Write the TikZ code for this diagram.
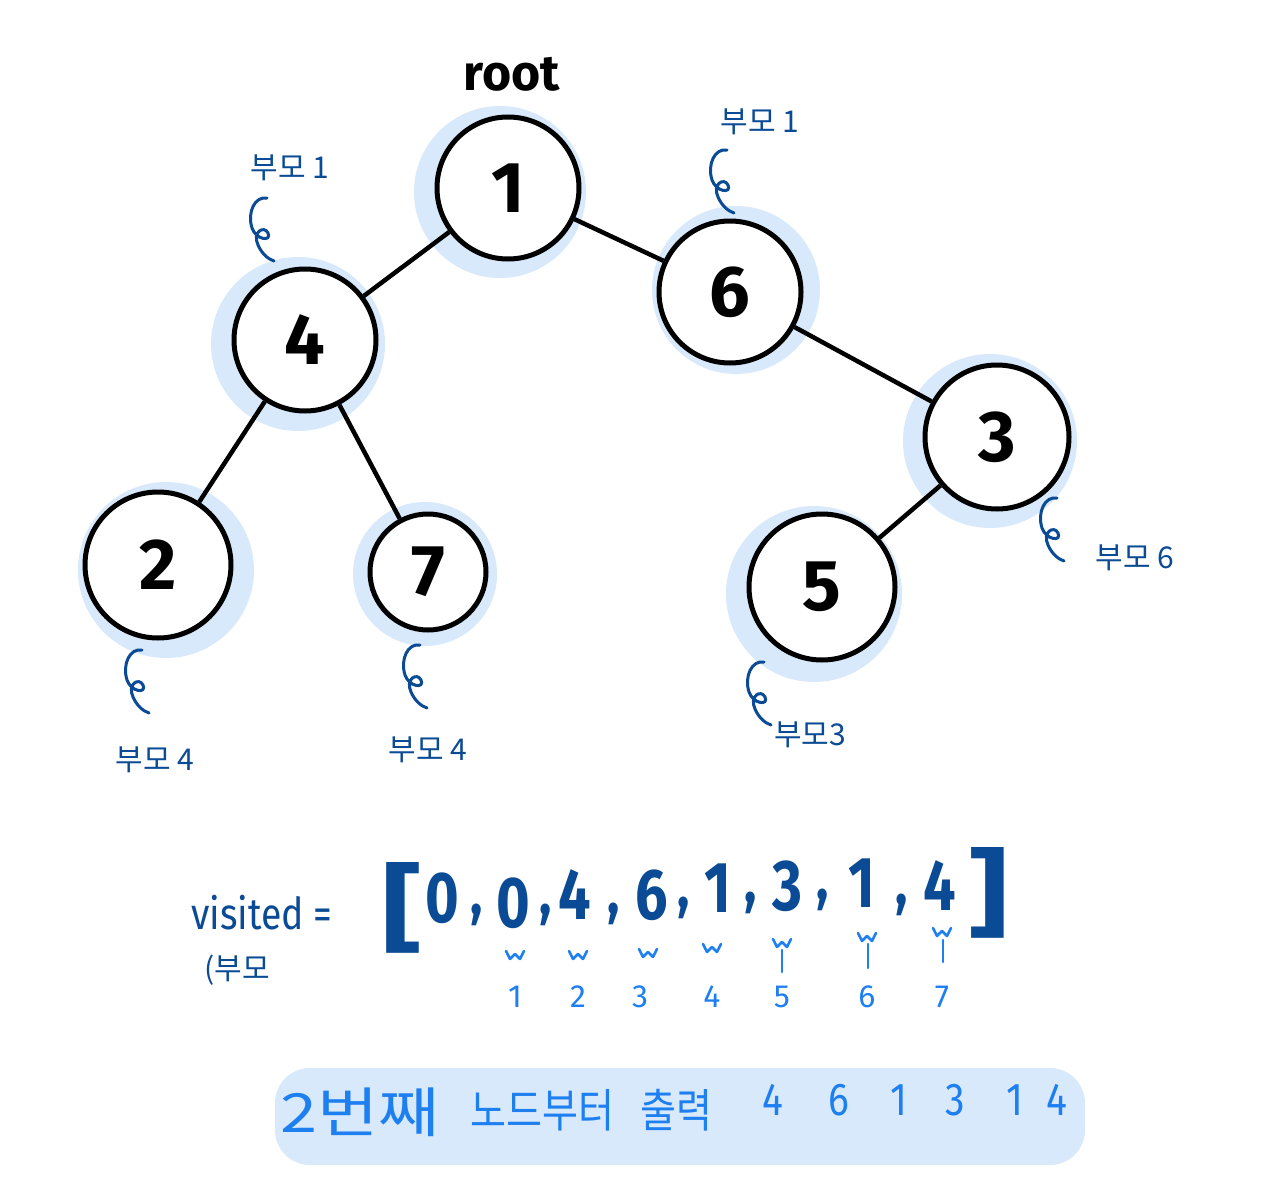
\documentclass[tikz,border=0pt]{standalone}
\usepackage{fontspec}
\setmainfont{Fira Sans}
\newfontfamily\kr{Noto Sans CJK KR}
\usetikzlibrary{positioning,calc}
\definecolor{ndark}{HTML}{0B4A94}
\definecolor{nbright}{HTML}{1E7FF0}
\definecolor{nhalo}{HTML}{D8E9FB}
\tikzset{
 curlmark/.pic={\draw[curlline] (12,0) .. controls (0,-2) and (-8,14) .. (-3,30) .. controls (1,42) and (17,44) .. (13,35) .. controls (9,27) and (-3,34) .. (3,47) .. controls (7,56) and (13,61) .. (19,63);}
}
\begin{document}
\begin{tikzpicture}[x=1pt,y=-1pt,
 tnode/.style={circle,draw=black,line width=5pt,fill=white,inner sep=0pt,font=\fontsize{72}{72}\selectfont\bfseries},
 edge/.style={line width=4.5pt},
 note/.style={text=ndark,inner sep=0pt,font=\kr\fontsize{30}{30}\selectfont},
 curlline/.style={draw=ndark,line width=3pt,line cap=round},
 arr/.style={text=ndark,inner sep=0pt,xscale=0.8,font=\fontsize{72}{72}\selectfont\bfseries},
 idx/.style={text=nbright,inner sep=0pt,font=\fontsize{32}{32}\selectfont},
 wave/.style={draw=nbright,line width=2.5pt,line cap=round,line join=round},
 outtext/.style={text=nbright,inner sep=0pt,anchor=west,xscale=0.85,font=\kr\fontsize{46}{46}\selectfont}]
\useasboundingbox (0,0) rectangle (1270,1199);
\fill[white] (0,0) rectangle (1270,1199);
\foreach \x/\y/\r in {500/192/86, 298/344/87, 736/290/84, 990/441/87, 166/570/88, 425/574/72, 814/594/88}
  \fill[nhalo] (\x,\y) circle (\r);
\node[tnode,minimum size=142pt] (n1) at (508,188) {1};
\node[tnode,minimum size=142pt] (n4) at (305,340) {4};
\node[tnode,minimum size=142pt] (n6) at (730,292) {6};
\node[tnode,minimum size=144pt] (n3) at (997,437) {3};
\node[tnode,minimum size=146pt] (n2) at (158,565) {2};
\node[tnode,minimum size=116pt] (n7) at (428,572) {7};
\node[tnode,minimum size=146pt] (n5) at (822,587) {5};
\draw[edge] (n1) -- (n4);
\draw[edge] (n1) -- (n6);
\draw[edge] (n4) -- (n2);
\draw[edge] (n4) -- (n7);
\draw[edge] (n6) -- (n3);
\draw[edge] (n3) -- (n5);
\node[font=\fontsize{50}{50}\selectfont\bfseries] (root) at (512,74) {root};
\node[note] (p4) at (290,168) {부모 1};
\node[note] (p6) at (760,122) {부모 1};
\node[note] (p3) at (1135,558) {부모 6};
\node[note] (p2) at (155,760) {부모 4};
\node[note] (p7) at (428,750) {부모 4};
\node[note] (p5) at (810,735) {부모3};
\pic at (255,198) {curlmark};
\pic at (715,150) {curlmark};
\pic at (1045,498) {curlmark};
\pic at (130,650) {curlmark};
\pic at (408,645) {curlmark};
\pic at (752,662) {curlmark};
\node[text=ndark,inner sep=0pt,xscale=0.85,font=\fontsize{44}{44}\selectfont] (vis) at (262,913) {visited =};
\node[text=ndark,inner sep=0pt,font=\kr\fontsize{30}{30}\selectfont] (par) at (237,970) {(부모};
\node[arr,xscale=1.6,font=\fontsize{96}{96}\selectfont\bfseries] (lb) at (402,908) {[};
\node[arr,xscale=1.6,font=\fontsize{96}{96}\selectfont\bfseries] (rb) at (988,893) {]};
\foreach \v/\x/\y in {0/442/898, 0/513/903, 4/575/895, 6/652/895, 1/718/888, 3/787/886, 1/862/883, 4/940/886}
  \node[arr] at (\x,\y) {\v};
\foreach \x/\y in {477/915, 546/915, 614/914, 684/908, 751/903, 823/900, 902/905}
  \node[arr,font=\fontsize{64}{64}\selectfont\bfseries] at (\x,\y) {,};
\foreach \i/\x in {1/515, 2/578, 3/640, 4/712, 5/782, 6/867, 7/942}
  \node[idx] (i\i) at (\x,997) {\i};
\foreach \x/\y in {515/955, 578/955, 648/953, 712/948, 782/943, 867/937, 942/932}
  \draw[wave] (\x-9,\y-4) -- (\x-5,\y+4) -- (\x,\y-1) -- (\x+5,\y+4) -- (\x+9,\y-4);
\draw[wave] (782,950) -- (782,972);
\draw[wave] (868,944) -- (868,968);
\draw[wave] (943,940) -- (943,962);
\fill[nhalo,rounded corners=35pt] (275,1068) rectangle (1085,1165);
\node[outtext,xscale=1.45,font=\kr\fontsize{54}{54}\selectfont] (o1) at (280,1112) {2번째};
\node[outtext] (o2) at (470,1110) {노드부터};
\node[outtext] (o3) at (640,1110) {출력};
\foreach \v/\x in {4/762, 6/828, 1/890, 3/945, 1/1006, 4/1046}
  \node[outtext,xscale=1,font=\fontsize{46}{46}\selectfont] at (\x,1100) {\v};
\end{tikzpicture}
\end{document}
